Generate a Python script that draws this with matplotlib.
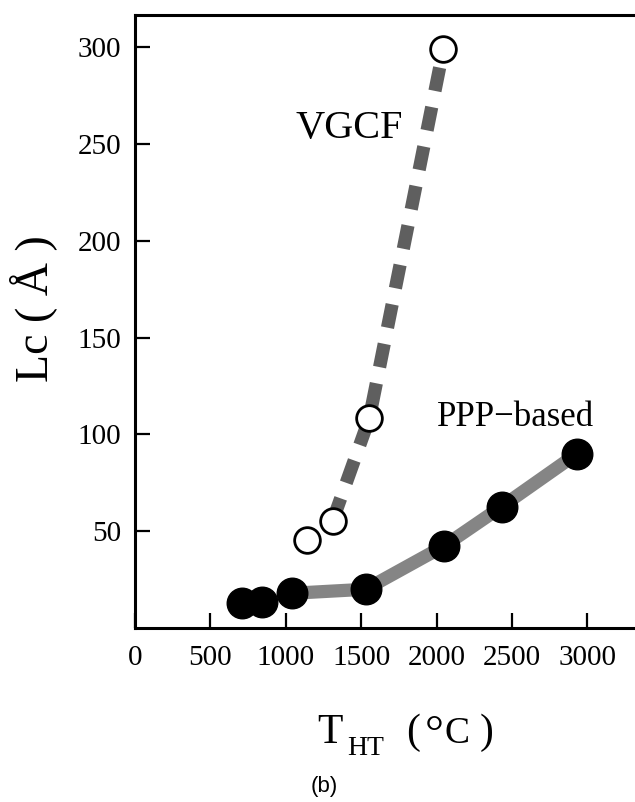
import matplotlib
matplotlib.use("Agg")
import matplotlib.pyplot as plt

# heat-treatment temperature (deg C) and crystallite thickness Lc (angstrom)
ppp_temp = [707, 840, 1039, 1530, 2051, 2432, 2929]
ppp_lc = [12.8, 13.6, 17.9, 20.0, 42.4, 62.7, 89.9]

vgcf_temp = [1139, 1311, 1554, 2045]
vgcf_lc = [45.5, 55.4, 108.3, 299.0]

x_ticks = [500, 1000, 1500, 2000, 2500, 3000]
x_labels = ["500", "1000", "1500", "2000", "2500", "3000"]
y_ticks = [50, 100, 150, 200, 250, 300]

SERIF = "Liberation Serif"
plt.rcParams["font.family"] = [SERIF, "DejaVu Serif"]

fig = plt.figure(figsize=(6.35, 8.02), dpi=100)
ax = fig.add_axes([0.2126, 0.217, 0.7874, 0.7643])

# PPP-based fibres: solid grey band with filled markers
ax.plot(ppp_temp[2:], ppp_lc[2:], color="#858585", linewidth=9.5,
        solid_capstyle="round", solid_joinstyle="round", zorder=2)
ax.plot(ppp_temp, ppp_lc, linestyle="none", marker="o", markersize=22,
        markerfacecolor="black", markeredgecolor="black", zorder=4)

# VGCF: heavy dashed grey line with open markers
ax.plot(vgcf_temp[1:], vgcf_lc[1:], color="#5f5f5f", linewidth=9.5,
        dashes=(1.8, 1.25), dash_capstyle="butt", zorder=2)
ax.plot(vgcf_temp, vgcf_lc, linestyle="none", marker="o", markersize=18.5,
        markerfacecolor="white", markeredgecolor="black",
        markeredgewidth=2.0, zorder=4)

ax.text(1419, 258, "VGCF", fontsize=29, ha="center", va="center")
ax.text(2003, 108.5, "PPP\u2212based", fontsize=25, ha="left", va="center")

ax.set_xlim(0, 3316)
ax.set_ylim(0, 316.6)
ax.set_xticks([0] + x_ticks)
ax.set_xticklabels(["0"] + x_labels)
ax.set_yticks(y_ticks)
ax.tick_params(direction="in", length=11, width=1.6, colors="black")
ax.tick_params(axis="x", labelsize=21, pad=12)
ax.tick_params(axis="y", labelsize=21, pad=10)
ax.spines["right"].set_visible(False)
for side in ("left", "bottom", "top"):
    ax.spines[side].set_linewidth(2.2)

fig.text(33 / 635, 1 - 309 / 802, "Lc ( Å )", rotation=90,
         fontsize=33, ha="center", va="center")

# x-axis title assembled from pieces so the subscript stays small
base = 1 - 743 / 802
fig.text(317 / 635, base, "T", fontsize=30, ha="left", va="baseline")
fig.text(347 / 635, 1 - 755 / 802, "HT", fontsize=20, ha="left", va="baseline")
fig.text(406 / 635, base, "(", fontsize=30, ha="left", va="baseline")
fig.text(425 / 635, 1 - 747 / 802, "°", fontsize=34, ha="left", va="baseline")
fig.text(445 / 635, base, "C", fontsize=27, ha="left", va="baseline")
fig.text(480 / 635, base, ")", fontsize=30, ha="left", va="baseline")

fig.text(0.51, 0.019, "(b)", fontsize=16, family="Liberation Sans",
         ha="center", va="center")

fig.savefig("out.png", dpi=100)
